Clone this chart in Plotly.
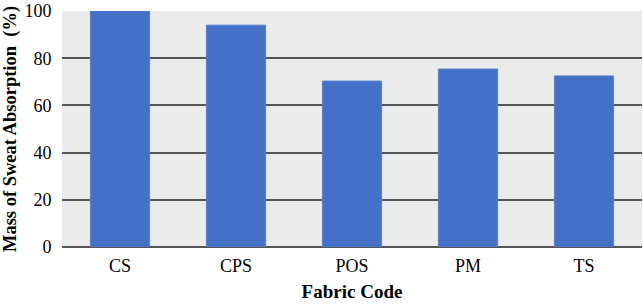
import plotly.graph_objects as go

categories = ["CS", "CPS", "POS", "PM", "TS"]
values = [100, 94, 70.3, 75.4, 72.5]
y_ticks = [0, 20, 40, 60, 80, 100]

fig = go.Figure()
fig.add_trace(go.Bar(
    x=categories, y=values,
    marker=dict(color="#4570C8", line=dict(color="#5A7FCC", width=1)),
    width=0.51,
))
font_family = "Liberation Serif, Times New Roman, serif"
fig.update_layout(
    width=643, height=305,
    margin=dict(l=62, r=1, t=11, b=58),
    plot_bgcolor="#EBEBEB", paper_bgcolor="white",
    font=dict(family=font_family, size=18, color="black"),
    showlegend=False,
    xaxis=dict(
        title=dict(text="<b>Fabric Code</b>", font=dict(size=19), standoff=10),
        showgrid=False, tickfont=dict(size=18), ticks="outside", ticklen=2, tickcolor="white",
        automargin=False,
    ),
    yaxis=dict(
        title=dict(text="<b>Mass of Sweat Absorption  (%)</b>", font=dict(size=18.5), standoff=8),
        range=[0, 100], tickvals=y_ticks, showgrid=True, gridcolor="#555555", gridwidth=1.5,
        zeroline=True, zerolinecolor="#555555", zerolinewidth=1.5,
        tickfont=dict(size=18), ticks="outside", ticklen=6, tickcolor="white",
        automargin=False,
    ),
)
fig.write_html("out.html", config={"displayModeBar": False},
               post_script="document.body.style.margin='0';document.body.style.overflow='hidden';")
